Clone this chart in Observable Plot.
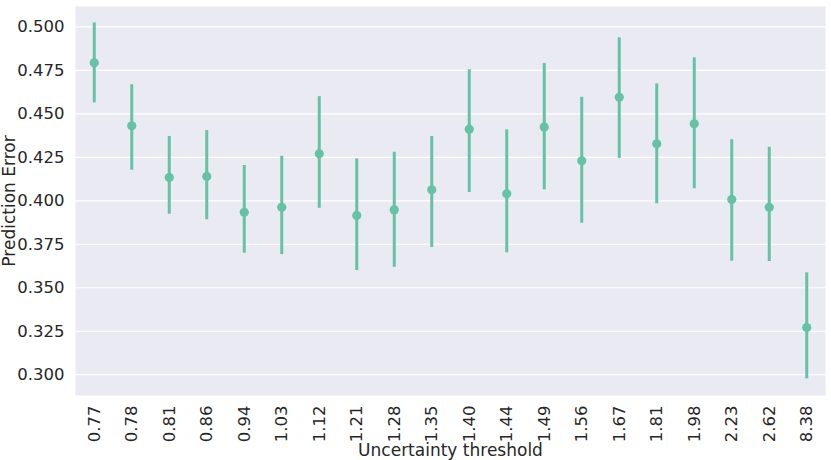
<!DOCTYPE html>
<html>
<head>
<meta charset="utf-8">
<script src="https://cdn.jsdelivr.net/npm/d3@7"></script>
<script src="https://cdn.jsdelivr.net/npm/@observablehq/plot@0.6"></script>
<style>
  html, body { margin: 0; padding: 0; background: #fff; }
  #chart svg { display: block; }
</style>
</head>
<body>
<div id="chart"></div>
<script>
const thresholds = ["0.77","0.78","0.81","0.86","0.94","1.03","1.12","1.21","1.28","1.35","1.40","1.44","1.49","1.56","1.67","1.81","1.98","2.23","2.62","8.38"];
const means  = [0.4793,0.4431,0.4134,0.4140,0.3934,0.3963,0.4270,0.3916,0.3948,0.4063,0.4412,0.4040,0.4425,0.4230,0.4595,0.4328,0.4443,0.4007,0.3963,0.3272];
const lowers = [0.4563,0.4176,0.3923,0.3891,0.3699,0.3691,0.3957,0.3599,0.3618,0.3732,0.4048,0.3701,0.4063,0.3871,0.4243,0.3983,0.4069,0.3653,0.3651,0.2977];
const uppers = [0.5023,0.4667,0.4370,0.4404,0.4203,0.4256,0.4599,0.4241,0.4279,0.4370,0.4753,0.4408,0.4789,0.4595,0.4937,0.4672,0.4822,0.4351,0.4308,0.3586];
const yTicks = [0.300,0.325,0.350,0.375,0.400,0.425,0.450,0.475,0.500];
const xLabel = "Uncertainty threshold";
const yLabel = "Prediction Error";

const data = thresholds.map((t, i) => ({t, m: means[i], lo: lowers[i], hi: uppers[i]}));
const color = "#66c2a5";

const chart = Plot.plot({
  width: 831,
  height: 460,
  marginLeft: 75,
  marginRight: 6,
  marginTop: 6,
  marginBottom: 65,
  style: {fontFamily: "DejaVu Sans", fontSize: "16px", color: "#262626", background: "white"},
  x: {type: "band", domain: thresholds, padding: 0, round: false},
  y: {domain: [0.2881, 0.5117]},
  marks: [
    Plot.frame({fill: "#eaeaf2", stroke: null}),
    Plot.gridY(yTicks, {stroke: "white", strokeOpacity: 1, strokeWidth: 1.1}),
    Plot.ruleX(data, {x: "t", y1: "lo", y2: "hi", stroke: color, strokeWidth: 3}),
    Plot.dot(data, {x: "t", y: "m", r: 4.6, fill: color, stroke: null}),
    Plot.axisY(yTicks, {tickSize: 0, tickPadding: 11, tickFormat: d3.format(".3f"), fontSize: 16.5, label: null}),
    Plot.axisX({tickSize: 0, tickPadding: 10, tickRotate: -90, fontSize: 16.5, label: null}),
    Plot.text([xLabel], {frameAnchor: "bottom", dy: 55, fontSize: 17, textAnchor: "middle", lineAnchor: "middle", fill: "#262626"}),
    Plot.text([yLabel], {frameAnchor: "left", dx: -66, rotate: -90, fontSize: 17, textAnchor: "middle", lineAnchor: "middle", fill: "#262626"})
  ]
});
document.getElementById("chart").appendChild(chart);
</script>
</body>
</html>
